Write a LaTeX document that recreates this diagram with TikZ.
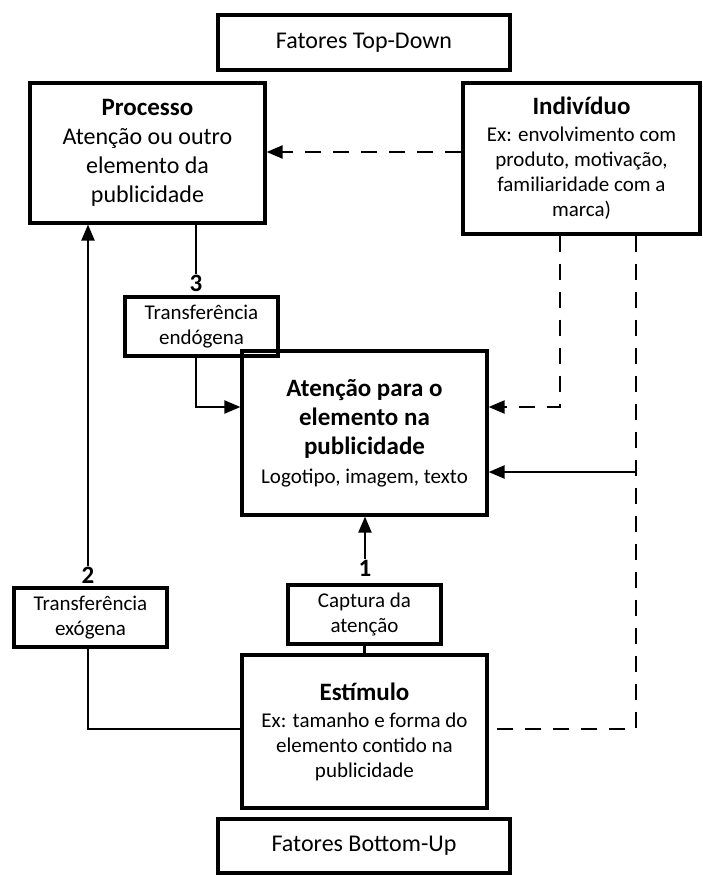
\documentclass[tikz,border=0pt]{standalone}
\usepackage{fontspec}
\setmainfont{Carlito}
\usetikzlibrary{arrows.meta}
\begin{document}
\begin{tikzpicture}[x=1pt,y=-1pt,
 box/.style={draw, line width=3.2pt, inner sep=0pt, align=center},
 conn/.style={line width=2.2pt},
 dsh/.style={conn, dash pattern=on 16pt off 12pt},
 arr/.style={-{Triangle[length=16pt,width=13pt]}},
 num/.style={font=\fontsize{25}{25}\selectfont\bfseries, inner sep=1pt},
 big/.style={font=\fontsize{24}{29}\selectfont},
 small/.style={font=\fontsize{21}{25}\selectfont}]
\useasboundingbox[fill=white] (0,0) rectangle (702,876);

\node[box,big,minimum width=292pt,minimum height=55pt] (top) at (364,42.5) {Fatores Top-Down};
\node[box,big,minimum width=235pt,minimum height=140pt] (proc) at (147.5,153)
 {{\fontsize{25}{29}\selectfont\bfseries Processo}\\Atenção ou outro\\elemento da\\publicidade};
\node[box,small,minimum width=237pt,minimum height=151pt] (indiv) at (581.5,158.5)
 {{\fontsize{25}{29}\selectfont\bfseries Indivíduo}\\[2pt]Ex: envolvimento com\\produto, motivação,\\familiaridade com a\\marca)};
\node[box,small,minimum width=153pt,minimum height=59pt] (endo) at (201.5,326.5) {Transferência\\endógena};
\node[box,font=\fontsize{25}{29}\selectfont\bfseries,minimum width=245pt,minimum height=164pt] (att) at (364.5,433)
 {Atenção para o\\elemento na\\publicidade\\{\fontsize{21}{25}\selectfont\mdseries Logotipo, imagem, texto}};
\node[box,small,minimum width=153pt,minimum height=59pt] (exo) at (90.5,617.5) {Transferência\\exógena};
\node[box,small,minimum width=153pt,minimum height=59pt] (capt) at (364.5,614.5) {Captura da\\atenção};
\node[box,small,minimum width=245pt,minimum height=153pt] (estim) at (364.5,731.5)
 {{\fontsize{25}{29}\selectfont\bfseries Estímulo}\\[2pt]Ex: tamanho e forma do\\elemento contido na\\publicidade};
\node[box,big,minimum width=292pt,minimum height=54pt] (bot) at (364,846) {Fatores Bottom-Up};

\coordinate (y1) at (0,152);
\coordinate (y2) at (0,407);
\coordinate (y3) at (0,472);
\coordinate (y5) at (0,729);
\coordinate (xA) at (560,0);
\coordinate (xB) at (636,0);

\draw[dsh,arr] (indiv.west |- y1) -- (proc.east |- y1);

\node[num] (n3) at (196,283) {3};
\draw[conn] (proc.south -| n3) -- (n3.north);
\draw[conn,arr] (endo.south -| n3) |- (att.west |- y2);

\draw[dsh,arr] (indiv.south -| xA) |- (att.east |- y2);
\draw[dsh] (indiv.south -| xB) |- (estim.east |- y5);
\draw[conn,arr] (xB |- y3) -- (att.east |- y3);

\node[num] (n1) at (365,568) {1};
\draw[conn,arr] (n1.north) -- (att.south -| n1);
\draw[conn] (capt.south) -- (estim.north);

\node[num] (n2) at (88,575) {2};
\draw[conn,arr] (n2.north) -- (proc.south -| n2);
\draw[conn] (exo.south -| n2) |- (estim.west |- y5);
\end{tikzpicture}
\end{document}
